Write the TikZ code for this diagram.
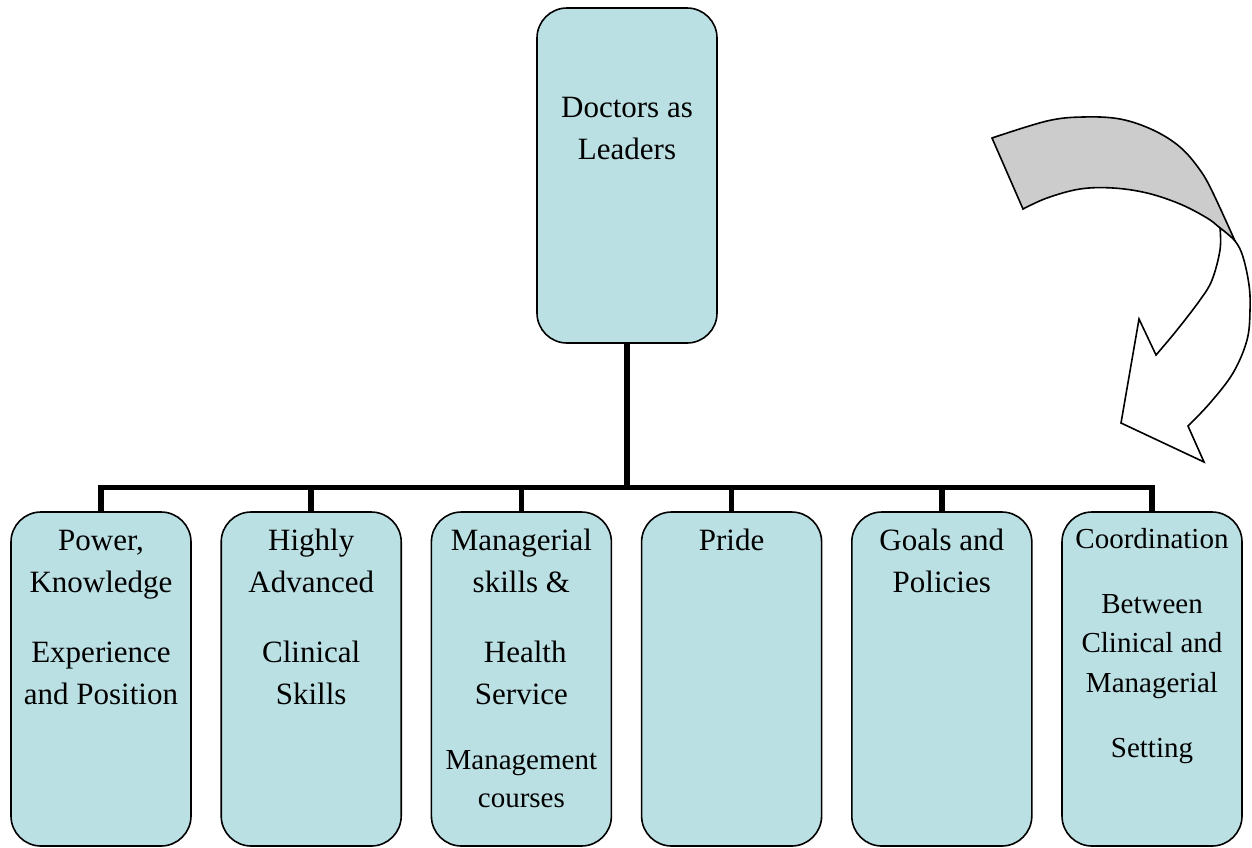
\documentclass[tikz,border=0pt]{standalone}
\usepackage{fontspec}
\setmainfont{Liberation Serif}
\definecolor{boxfill}{HTML}{BBE0E3}
\definecolor{arrowgray}{HTML}{CCCCCC}
\begin{document}
\begin{tikzpicture}[x=1pt,y=-1pt,
  box/.style={draw=black, line width=1.6pt, fill=boxfill, rounded corners=30pt,
    minimum width=180pt, inner sep=0pt, outer sep=0pt},
  txt/.style={anchor=north, inner sep=0pt, align=center, font=\fontsize{31}{42}\selectfont},
  txtsmall/.style={anchor=north, inner sep=0pt, align=center, font=\fontsize{29}{39.5}\selectfont},
  conn/.style={draw=black, line width=5.5pt, line join=miter},
  arrowline/.style={draw=black, line width=1.6pt, line join=miter}]
\useasboundingbox (0,0) rectangle (1252,847);

% top box
\node[box, minimum height=335pt] (top) at (627,175.5) {};
\node[txt] (t0) at (627,87.6) {\strut Doctors as\\Leaders};

% bottom boxes
\node[box, minimum height=334pt] (b1) at (101,679) {};
\node[box, minimum height=334pt] (b2) at (311.2,679) {};
\node[box, minimum height=334pt] (b3) at (521.4,679) {};
\node[box, minimum height=334pt] (b4) at (731.6,679) {};
\node[box, minimum height=334pt] (b5) at (941.8,679) {};
\node[box, minimum height=334pt] (b6) at (1152,679) {};

\node[txt] (t1) at (101,520.6) {\strut Power,\\Knowledge\\[28pt]Experience\\and Position};
\node[txt] (t2) at (311.2,520.6) {\strut Highly\\Advanced\\[28pt]Clinical\\Skills};
\node[txt] (t3) at (521.4,520.6) {\strut Managerial\\skills \&\\[28pt]\hspace*{7.75pt}Health\\Service\\[23pt]{\fontsize{29}{38}\selectfont Management}\\[-4pt]{\fontsize{29}{38}\selectfont courses}};
\node[txt] (t4) at (731.6,520.6) {\strut Pride};
\node[txt] (t5) at (941.8,520.6) {\strut Goals and\\Policies};
\node[txtsmall] (t6) at (1152,520.35) {\strut Coordination\\[25.5pt]Between\\Clinical and\\Managerial\\[25.5pt]Setting};

% connectors
\coordinate (bar) at (627,487.5);
\draw[conn] (top.south) -- (top.south |- bar);
\draw[conn] (b1.north) -- (b1.north |- bar) -- (b6.north |- bar) -- (b6.north);
\draw[conn] (b2.north) -- (b2.north |- bar);
\draw[conn] (b3.north) -- (b3.north |- bar);
\draw[conn] (b4.north) -- (b4.north |- bar);
\draw[conn] (b5.north) -- (b5.north |- bar);

% curved 3D arrow
\filldraw[arrowline, fill=arrowgray] (992,138)
  -- plot[smooth, tension=0.6] coordinates {(992,138) (1047,121) (1083,117) (1120,119) (1153,130) (1180,147) (1200,170) (1213,193) (1235,241)}
  -- plot[smooth, tension=0.6] coordinates {(1235,241) (1220,228) (1207,218) (1180,204) (1147,193) (1113,188) (1080,189) (1047,198) (1023,209)}
  -- cycle;
\filldraw[arrowline, fill=white] (1220,228)
  -- plot[smooth, tension=0.6] coordinates {(1220,228) (1235,241) (1243,257) (1249,285) (1250,310) (1247,340) (1233,373) (1210,403) (1188,426)}
  -- (1204,462) -- (1121,423) -- (1139,319) -- (1156,355)
  -- plot[smooth, tension=0.6] coordinates {(1156,355) (1177,330) (1200,300) (1212,280) (1220,250) (1220,228)}
  -- cycle;
\end{tikzpicture}
\end{document}
